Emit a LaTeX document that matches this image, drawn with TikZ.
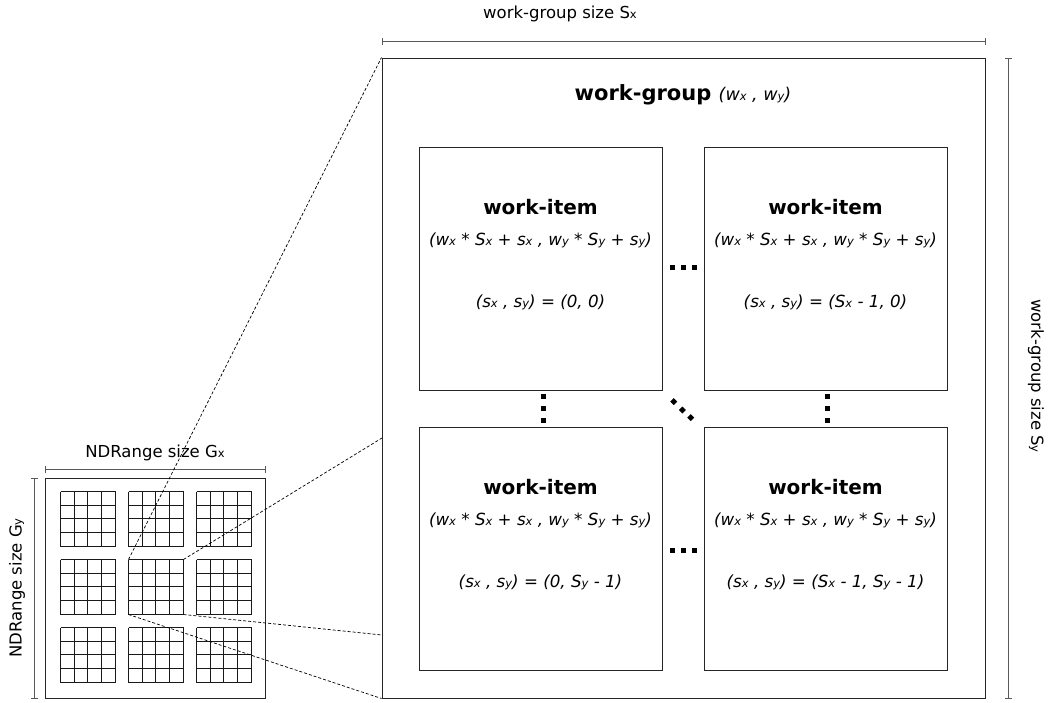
\documentclass[tikz,border=0pt]{standalone}
\usepackage{fontspec}
\setmainfont{DejaVu Sans}
\usetikzlibrary{arrows.meta}
\newcommand\lo[1]{{\fontsize{11.5}{12}\selectfont #1}}
\begin{document}
\begin{tikzpicture}[x=1pt,y=-1pt,
	box/.style={draw=black!85,line width=1pt,inner sep=0pt},
	cell/.style={draw=black!90,line width=1.3pt},
	dim/.style={draw=black!65,line width=0.7pt,{Bar[width=7pt]}-{Bar[width=7pt]}},
	proj/.style={draw=black,line width=0.7pt,dash pattern=on 3pt off 2pt},
	lab/.style={font=\fontsize{16.5}{18}\selectfont},
	head/.style={font=\fontsize{20}{22}\selectfont\bfseries},
	info/.style={font=\fontsize{16.7}{18}\selectfont\itshape}]

\useasboundingbox (0,0) rectangle (1054,702);

% NDRange with its 3x3 work-groups
\node[box,minimum size=220] (nd) at (155,588) {};
\foreach \bx in {60.5,128.5,196.5} {
	\foreach \by in {491.5,559.5,627.5} {
		\foreach \k in {0,14,27,41,55} {
			\draw[cell] (\bx+\k,\by) -- ++(0,55);
			\draw[cell] (\bx,\by+\k) -- ++(55,0);
		}
	}
}
\coordinate (mtl) at (128.5,559.5);
\coordinate (mtr) at (183.5,559.5);
\coordinate (mbr) at (183.5,614.5);
\coordinate (mbl) at (128.5,614.5);

\draw[dim] ([yshift=8]nd.north west) -- ([yshift=8]nd.north east);
\draw[dim] ([xshift=-10]nd.north west) -- ([xshift=-10]nd.south west);
\node[lab] (gx) at (155,453) {NDRange size G\lo{x}};
\node[lab,rotate=90] (gy) at (17,588) {NDRange size G\lo{y}};

% the zoomed work-group
\node[box,minimum width=603,minimum height=640] (wg) at (683.5,378) {};
\coordinate (e1) at (382,438);
\coordinate (e2) at (382,635);
\draw[proj] (mtl) -- (wg.north west);
\draw[proj] (mtr) -- (e1);
\draw[proj] (mbr) -- (e2);
\draw[proj] (mbl) -- (wg.south west);

\node (wgt) at (683,95) {\fontsize{21}{23}\selectfont\bfseries work-group
	\fontsize{17.5}{19}\selectfont\mdseries\itshape (w\lo{x} , w\lo{y})};

\draw[dim] ([yshift=16]wg.north west) -- ([yshift=16]wg.north east);
\draw[dim] ([xshift=23]wg.north east) -- ([xshift=23]wg.south east);
\node[lab] (sx) at (560,14) {work-group size S\lo{x}};
\node[lab,rotate=-90] (sy) at (1036,376) {work-group size S\lo{y}};

% work-items
\foreach \n/\x/\y/\c in {a/540.5/268.5/{(0, 0)},
		b/825.5/268.5/{(S\lo{x} - 1, 0)},
		c/540.5/548.5/{(0, S\lo{y} - 1)},
		d/825.5/548.5/{(S\lo{x} - 1, S\lo{y} - 1)}} {
	\node[box,minimum size=243] (wi\n) at (\x,\y) {};
	\node[head,yshift=61] (wt\n) at (wi\n) {work-item};
	\node[info,yshift=28] (wf\n) at (wi\n)
		{(w\lo{x} * S\lo{x} + s\lo{x} , w\lo{y} * S\lo{y} + s\lo{y})};
	\node[info,yshift=-34] (wc\n) at (wi\n) {(s\lo{x} , s\lo{y}) = \c};
}

% ellipses between the work-items
\foreach \y in {267,550} {
	\foreach \x in {672,683,694}
		\fill (\x-2.5,\y-2.5) rectangle (\x+2.5,\y+2.5);
}
\foreach \x in {543,827} {
	\foreach \y in {396,408,420}
		\fill (\x-2.5,\y-2.5) rectangle (\x+2.5,\y+2.5);
}
\foreach \x/\y in {673.7/401.7,682.3/410,690.7/417.7}
	\fill (\x-3.5,\y) -- (\x,\y-3.5) -- (\x+3.5,\y) -- (\x,\y+3.5) -- cycle;

\end{tikzpicture}
\end{document}
